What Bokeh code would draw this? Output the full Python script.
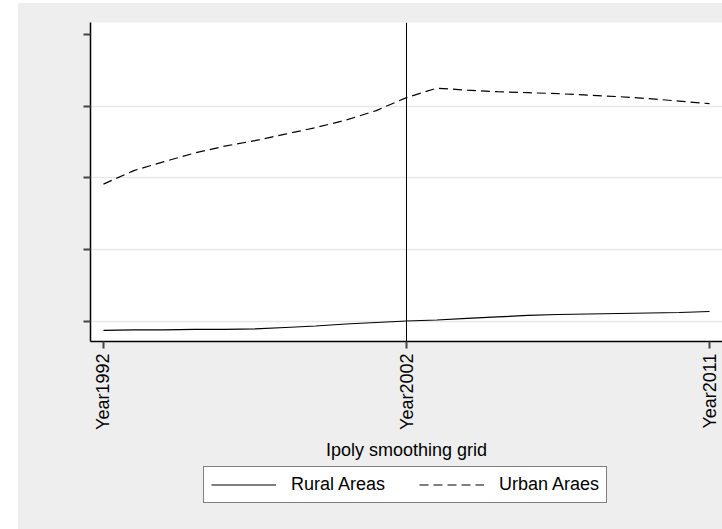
import math
from bokeh.plotting import figure
from bokeh.models import (FixedTicker, Span, Legend, LegendItem, Range1d, Spacer)
from bokeh.layouts import row, column
from bokeh.embed import file_html
from bokeh.resources import INLINE

# ---- data ----
grid = list(range(21))  # ipoly smoothing grid points
rural = [-0.125, -0.118, -0.116, -0.111, -0.109, -0.104, -0.084, -0.063, -0.035,
         -0.014, 0.007, 0.021, 0.042, 0.063, 0.084, 0.097, 0.104, 0.111, 0.118,
         0.125, 0.139]
urban = [1.915, 2.103, 2.228, 2.347, 2.444, 2.521, 2.611, 2.702, 2.806, 2.939,
         3.120, 3.252, 3.224, 3.203, 3.189, 3.175, 3.155, 3.134, 3.106, 3.071,
         3.036]
tick_pos = [0, 10, 20]
tick_labels = ["Year1992", "Year2002", "Year2011"]
y_ticks = [0, 1, 2, 3, 4]
y_grid = [0, 1, 2, 3]
break_pos = 10
series_names = ["Rural Areas", "Urban Araes"]

FONT = "Liberation Sans"
BG = "#eeeeee"
DASH = "9 5"

p = figure(width=704, height=462, output_backend="svg", toolbar_location=None,
           x_range=Range1d(-0.429, 20.429), y_range=Range1d(-0.279, 4.167),
           min_border_left=72, min_border_right=0, min_border_top=19,
           min_border_bottom=124)
p.border_fill_color = BG
p.background_fill_color = "white"
p.outline_line_color = None

p.line(grid, rural, line_color="black", line_width=1.2)
p.line(grid, urban, line_color="black", line_width=1.2, line_dash=DASH)

p.add_layout(Span(location=break_pos, dimension="height", line_color="black",
                  line_width=1))

# grid
p.xgrid.visible = False
p.ygrid.ticker = FixedTicker(ticks=y_grid)
p.ygrid.grid_line_color = "#e8e8e8"
p.ygrid.grid_line_width = 1.5

# y axis
ya = p.yaxis[0]
ya.ticker = FixedTicker(ticks=y_ticks)
ya.major_label_overrides = {t: " " for t in y_ticks}
ya.major_label_text_font_size = "1px"
ya.major_label_standoff = 0
ya.axis_line_color = "black"
ya.axis_line_width = 1.5
ya.major_tick_line_color = "#444444"
ya.major_tick_line_width = 2
ya.major_tick_out = 7
ya.major_tick_in = 0
ya.minor_tick_line_color = None

# x axis
xa = p.xaxis[0]
xa.ticker = FixedTicker(ticks=tick_pos)
xa.major_label_overrides = {k: v for k, v in zip(tick_pos, tick_labels)}
xa.major_label_orientation = math.pi / 2
xa.major_label_text_font = FONT
xa.major_label_text_font_size = "18px"
xa.major_label_text_color = "black"
xa.major_label_standoff = 5
xa.axis_line_color = "black"
xa.axis_line_width = 1.5
xa.major_tick_line_color = "#444444"
xa.major_tick_line_width = 2
xa.major_tick_out = 7
xa.major_tick_in = 0
xa.minor_tick_line_color = None
xa.axis_label = "Ipoly smoothing grid"
xa.axis_label_text_font = FONT
xa.axis_label_text_font_size = "18px"
xa.axis_label_text_font_style = "normal"
xa.axis_label_text_color = "black"
xa.axis_label_standoff = 7

# ---- legend strip (separate figure below, so the legend is not clipped) ----
lf = figure(width=704, height=64, output_backend="svg", toolbar_location=None,
            x_range=Range1d(100, 101), y_range=Range1d(100, 101),
            x_axis_location=None, y_axis_location=None,
            min_border_left=72, min_border_right=0, min_border_top=0,
            min_border_bottom=0)
lf.border_fill_color = BG
lf.background_fill_color = BG
lf.outline_line_color = None
lf.xgrid.visible = False
lf.ygrid.visible = False
# same series, drawn out of this strip's view; they only feed the legend keys
k1 = lf.line(grid, rural, line_color="black", line_width=1.2)
k2 = lf.line(grid, urban, line_color="black", line_width=1.2, line_dash=DASH)

legend = Legend(items=[LegendItem(label=series_names[0], renderers=[k1]),
                       LegendItem(label=series_names[1], renderers=[k2])],
                orientation="horizontal", location=(113, 26))
legend.label_text_font = FONT
legend.label_text_font_size = "18px"
legend.label_text_color = "black"
legend.glyph_width = 65
legend.glyph_height = 19
legend.label_height = 19
legend.label_standoff = 15
legend.spacing = 34
legend.padding = 7
legend.margin = 0
legend.border_line_color = "black"
legend.border_line_width = 1
legend.background_fill_color = "white"
legend.background_fill_alpha = 1
lf.add_layout(legend, "center")

body = column(p, lf, styles={"background-color": BG})
layout = column(Spacer(width=722, height=3),
                row(Spacer(width=18, height=526), body))
open("out.html", "w").write(file_html(layout, INLINE))
